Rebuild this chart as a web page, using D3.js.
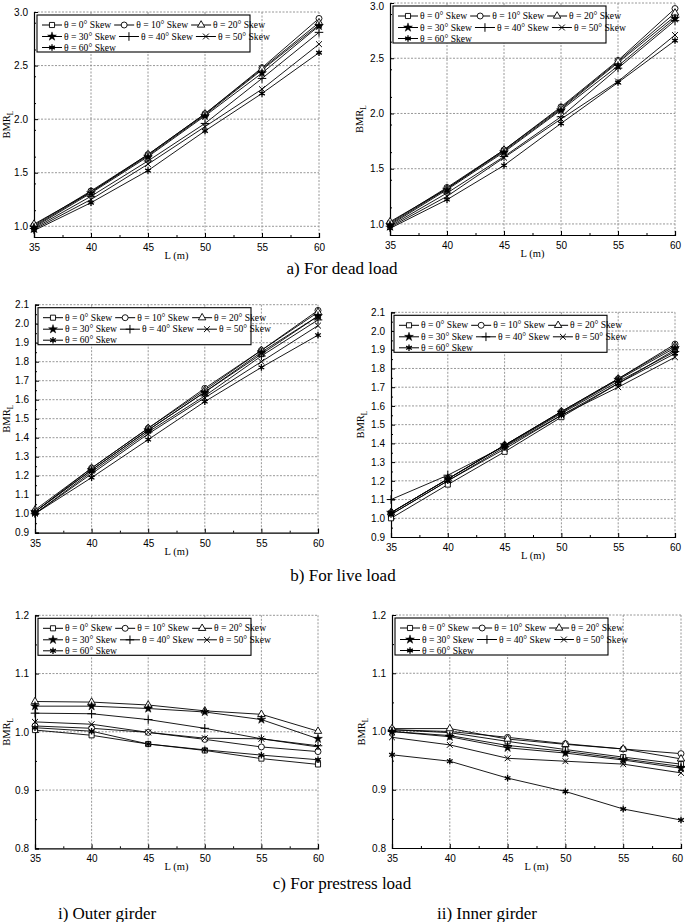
<!DOCTYPE html>
<html><head><meta charset="utf-8">
<script src="https://cdn.jsdelivr.net/npm/d3@7"></script>
<style>
html,body{margin:0;padding:0;background:#fff;}
svg{display:block;}
</style></head>
<body>
<script>
// ---------- DATA ----------
const spans = [35, 40, 45, 50, 55, 60];
const skewLabels = ["θ = 0° Skew","θ = 10° Skew","θ = 20° Skew","θ = 30° Skew","θ = 40° Skew","θ = 50° Skew","θ = 60° Skew"];

// a) dead load
const deadOuter = [
  [1.00, 1.32, 1.66, 2.04, 2.46, 2.88],
  [1.01, 1.33, 1.67, 2.05, 2.48, 2.94],
  [1.02, 1.32, 1.67, 2.05, 2.47, 2.90],
  [0.99, 1.31, 1.65, 2.03, 2.43, 2.87],
  [0.98, 1.28, 1.61, 1.96, 2.38, 2.81],
  [0.97, 1.25, 1.58, 1.93, 2.28, 2.70],
  [0.96, 1.22, 1.52, 1.89, 2.24, 2.62]
];
const deadInner = [
  [1.00, 1.32, 1.66, 2.04, 2.46, 2.88],
  [1.01, 1.33, 1.67, 2.06, 2.48, 2.95],
  [1.02, 1.32, 1.67, 2.05, 2.47, 2.91],
  [0.99, 1.31, 1.65, 2.03, 2.43, 2.86],
  [0.98, 1.28, 1.61, 1.97, 2.41, 2.84],
  [0.97, 1.25, 1.60, 1.95, 2.29, 2.71],
  [0.96, 1.22, 1.53, 1.91, 2.28, 2.66]
];
// b) live load
const liveOuter = [
  [1.01, 1.23, 1.44, 1.64, 1.84, 2.04],
  [1.01, 1.24, 1.45, 1.66, 1.86, 2.07],
  [1.02, 1.24, 1.45, 1.65, 1.86, 2.06],
  [1.01, 1.23, 1.44, 1.64, 1.85, 2.04],
  [1.00, 1.22, 1.43, 1.62, 1.83, 2.02],
  [1.00, 1.21, 1.42, 1.61, 1.80, 1.99],
  [1.00, 1.19, 1.39, 1.59, 1.77, 1.94]
];
const liveInner = [
  [1.00, 1.18, 1.355, 1.54, 1.72, 1.90],
  [1.03, 1.21, 1.39, 1.57, 1.745, 1.93],
  [1.03, 1.21, 1.39, 1.57, 1.745, 1.92],
  [1.03, 1.21, 1.39, 1.565, 1.74, 1.91],
  [1.10, 1.23, 1.385, 1.56, 1.73, 1.89],
  [1.02, 1.20, 1.37, 1.55, 1.70, 1.86],
  [1.02, 1.20, 1.38, 1.55, 1.72, 1.88]
];
// c) prestress load
const prestressOuter = [
  [1.003, 0.994, 0.979, 0.968, 0.954, 0.944],
  [1.010, 1.006, 0.999, 0.987, 0.974, 0.966],
  [1.052, 1.051, 1.046, 1.036, 1.030, 1.001],
  [1.044, 1.044, 1.040, 1.034, 1.021, 0.988],
  [1.032, 1.031, 1.021, 1.006, 0.988, 0.976],
  [1.017, 1.013, 0.999, 0.989, 0.988, 0.974],
  [1.007, 1.001, 0.979, 0.969, 0.960, 0.952]
];
const prestressInner = [
  [1.003, 0.998, 0.983, 0.969, 0.956, 0.944],
  [1.003, 1.000, 0.990, 0.979, 0.970, 0.962],
  [1.005, 1.005, 0.987, 0.978, 0.970, 0.953],
  [1.000, 0.991, 0.972, 0.963, 0.951, 0.937],
  [1.000, 0.993, 0.976, 0.966, 0.953, 0.940],
  [0.990, 0.977, 0.954, 0.949, 0.944, 0.929],
  [0.960, 0.949, 0.920, 0.897, 0.867, 0.848]
];

const xTicks = [35, 40, 45, 50, 55, 60];
const yTicksDead = [1.0, 1.5, 2.0, 2.5, 3.0];
const yTicksLive = [0.9, 1.0, 1.1, 1.2, 1.3, 1.4, 1.5, 1.6, 1.7, 1.8, 1.9, 2.0, 2.1];
const yTicksPre = [0.8, 0.9, 1.0, 1.1, 1.2];

const captions = ["a) For dead load", "b) For live load", "c) For prestress load", "i) Outer girder", "ii) Inner girder"];

// ---------- LAYOUT ----------
const W = 685, H = 922;
const svg = d3.select("body").append("svg").attr("width", W).attr("height", H);

const panels = [
  {data: deadOuter, L: 34, R: 319, T: 12, B: 237, ymin: 0.9, ymax: 3.0, ticks: yTicksDead, minor: 0.25},
  {data: deadInner, L: 390, R: 675, T: 3, B: 235, ymin: 0.9, ymax: 3.0, ticks: yTicksDead, minor: 0.25},
  {data: liveOuter, L: 35, R: 318, T: 304.7, B: 532.7, ymin: 0.9, ymax: 2.1, ticks: yTicksLive, minor: 0.05},
  {data: liveInner, L: 391, R: 675, T: 312.3, B: 537, ymin: 0.9, ymax: 2.1, ticks: yTicksLive, minor: 0.05},
  {data: prestressOuter, L: 35, R: 318, T: 615.3, B: 848.3, ymin: 0.8, ymax: 1.2, ticks: yTicksPre, minor: 0.05},
  {data: prestressInner, L: 392, R: 681, T: 615, B: 848, ymin: 0.8, ymax: 1.2, ticks: yTicksPre, minor: 0.05}
];

const sym = (t, s) => d3.symbol().type(t).size(s)();
const markerDefs = [
  {t: d3.symbolSquare, s: 26, fill: "#fff", sw: 0.9},
  {t: d3.symbolCircle, s: 28, fill: "#fff", sw: 0.9},
  {t: d3.symbolTriangle, s: 24, fill: "#fff", sw: 0.9},
  {t: d3.symbolStar, s: 24, fill: "#000", sw: 0.5},
  {t: d3.symbolPlus || d3.symbolCross, s: 26, fill: "none", sw: 1.0},
  {t: d3.symbolX || d3.symbolTimes, s: 24, fill: "none", sw: 1.0},
  {t: d3.symbolAsterisk, s: 30, fill: "none", sw: 1.3}
];
function drawMarker(g, i, x, y) {
  const m = markerDefs[i];
  g.append("path").attr("d", sym(m.t, m.s))
    .attr("transform", `translate(${x},${y})`)
    .attr("fill", m.fill).attr("stroke", "#000").attr("stroke-width", m.sw);
  if (i === 6) {
    g.append("circle").attr("cx", x).attr("cy", y).attr("r", 1.3).attr("fill", "#000");
  }
}

panels.forEach(p => {
  const g = svg.append("g");
  const x = d3.scaleLinear().domain([35, 60]).range([p.L, p.R]);
  const y = d3.scaleLinear().domain([p.ymin, p.ymax]).range([p.B, p.T]);

  // grid
  const gridColor = "#8c8c8c";
  xTicks.filter(t => t > 35).forEach(t => {
    g.append("line").attr("x1", x(t)).attr("x2", x(t)).attr("y1", p.T).attr("y2", p.B)
      .attr("stroke", gridColor).attr("stroke-width", 0.9).attr("stroke-dasharray", "2,1.5");
  });
  p.ticks.filter(t => t > p.ymin + 1e-9).forEach(t => {
    g.append("line").attr("x1", p.L).attr("x2", p.R).attr("y1", y(t)).attr("y2", y(t))
      .attr("stroke", gridColor).attr("stroke-width", 0.9).attr("stroke-dasharray", "2,1.5");
  });

  // axes
  const xAxis = d3.axisBottom(x).tickValues(xTicks).tickSize(-4).tickPadding(8).tickFormat(d3.format("d"));
  const gx = g.append("g").attr("transform", `translate(0,${p.B})`).call(xAxis);
  const minorX = d3.range(37.5, 60, 5);
  g.append("g").attr("transform", `translate(0,${p.B})`)
    .call(d3.axisBottom(x).tickValues(minorX).tickSize(-2).tickFormat(""))
    .call(a => a.select(".domain").remove());

  const yAxis = d3.axisLeft(y).tickValues(p.ticks).tickSize(-4).tickPadding(6).tickFormat(d3.format(".1f"));
  const gy = g.append("g").attr("transform", `translate(${p.L},0)`).call(yAxis);
  const minorY = [];
  for (let v = p.ymin; v <= p.ymax + 1e-9; v += p.minor) {
    const isMajor = p.ticks.some(t => Math.abs(t - v) < 1e-6);
    if (!isMajor) minorY.push(+v.toFixed(4));
  }
  g.append("g").attr("transform", `translate(${p.L},0)`)
    .call(d3.axisLeft(y).tickValues(minorY).tickSize(-2).tickFormat(""))
    .call(a => a.select(".domain").remove());

  [gx, gy].forEach(a => {
    a.select(".domain").attr("stroke", "#000").attr("stroke-width", 1.2);
    a.selectAll(".tick text").attr("font-family", "Liberation Sans, Arial, sans-serif")
      .attr("font-size", 10).attr("fill", "#000");
  });
  g.selectAll(".tick line").attr("stroke", "#000");
  gx.selectAll(".tick text").attr("dy", "0.6em");
  // keep edge labels inside the page
  gy.selectAll(".tick text").filter(function() { return y(+this.textContent) < 6; })
    .attr("dy", function() { return (6 - y(+this.textContent)) + 3.5; });
  gx.selectAll(".tick text").filter(function() { return x(+this.textContent) > W - 8; })
    .attr("dx", function() { return -(x(+this.textContent) - (W - 8)); });

  // axis titles
  g.append("text").attr("x", (p.L + p.R) / 2).attr("y", p.B + 22)
    .attr("text-anchor", "middle").attr("font-family", "Liberation Serif, Times New Roman, serif")
    .attr("font-size", 10.5).text("L (m)");
  const yl = g.append("text")
    .attr("transform", `translate(${Math.max(10, p.L - 27)},${(p.T + p.B) / 2}) rotate(-90)`)
    .attr("text-anchor", "middle").attr("font-family", "Liberation Serif, Times New Roman, serif")
    .attr("font-size", 10.5);
  yl.append("tspan").text("BMR");
  yl.append("tspan").attr("font-size", 7.5).attr("dy", 3).text("L");

  // series
  const line = d3.line().x((d, i) => x(spans[i])).y(d => y(d));
  p.data.forEach(series => {
    g.append("path").datum(series).attr("d", line)
      .attr("fill", "none").attr("stroke", "#000").attr("stroke-width", 0.9);
  });
  p.data.forEach((series, si) => {
    series.forEach((v, i) => drawMarker(g, si, x(spans[i]), y(v)));
  });

  // legend
  const bx = p.L + 3, by = p.T + 3, bw = 213, bh = 37;
  const lg = g.append("g");
  lg.append("rect").attr("x", bx).attr("y", by).attr("width", bw).attr("height", bh)
    .attr("fill", "#fff").attr("stroke", "#000").attr("stroke-width", 1.1);
  const rowsY = [by + 10, by + 21.5, by + 32.5];
  const rows = [[0, 1, 2], [3, 4, 5], [6]];
  rows.forEach((r, ri) => {
    let cx = bx + 5;
    r.forEach(si => {
      const ly = rowsY[ri];
      lg.append("line").attr("x1", cx).attr("x2", cx + 20).attr("y1", ly).attr("y2", ly)
        .attr("stroke", "#000").attr("stroke-width", 1);
      drawMarker(lg, si, cx + 10, ly);
      const t = lg.append("text").attr("x", cx + 22).attr("y", ly + 3)
        .attr("font-family", "Liberation Serif, Times New Roman, serif")
        .attr("font-size", 9.6).text(skewLabels[si]);
      cx += 22 + t.node().getComputedTextLength() + 3;
    });
  });
});

// captions
const capFont = "Liberation Serif, Times New Roman, serif";
const capPos = [[342, 274], [343, 581], [342, 889], [107, 919], [487, 919]];
captions.forEach((c, i) => {
  svg.append("text").attr("x", capPos[i][0]).attr("y", capPos[i][1])
    .attr("text-anchor", "middle").attr("font-family", capFont)
    .attr("font-size", 17).attr("fill", "#000").text(c);
});
</script>
</body></html>
